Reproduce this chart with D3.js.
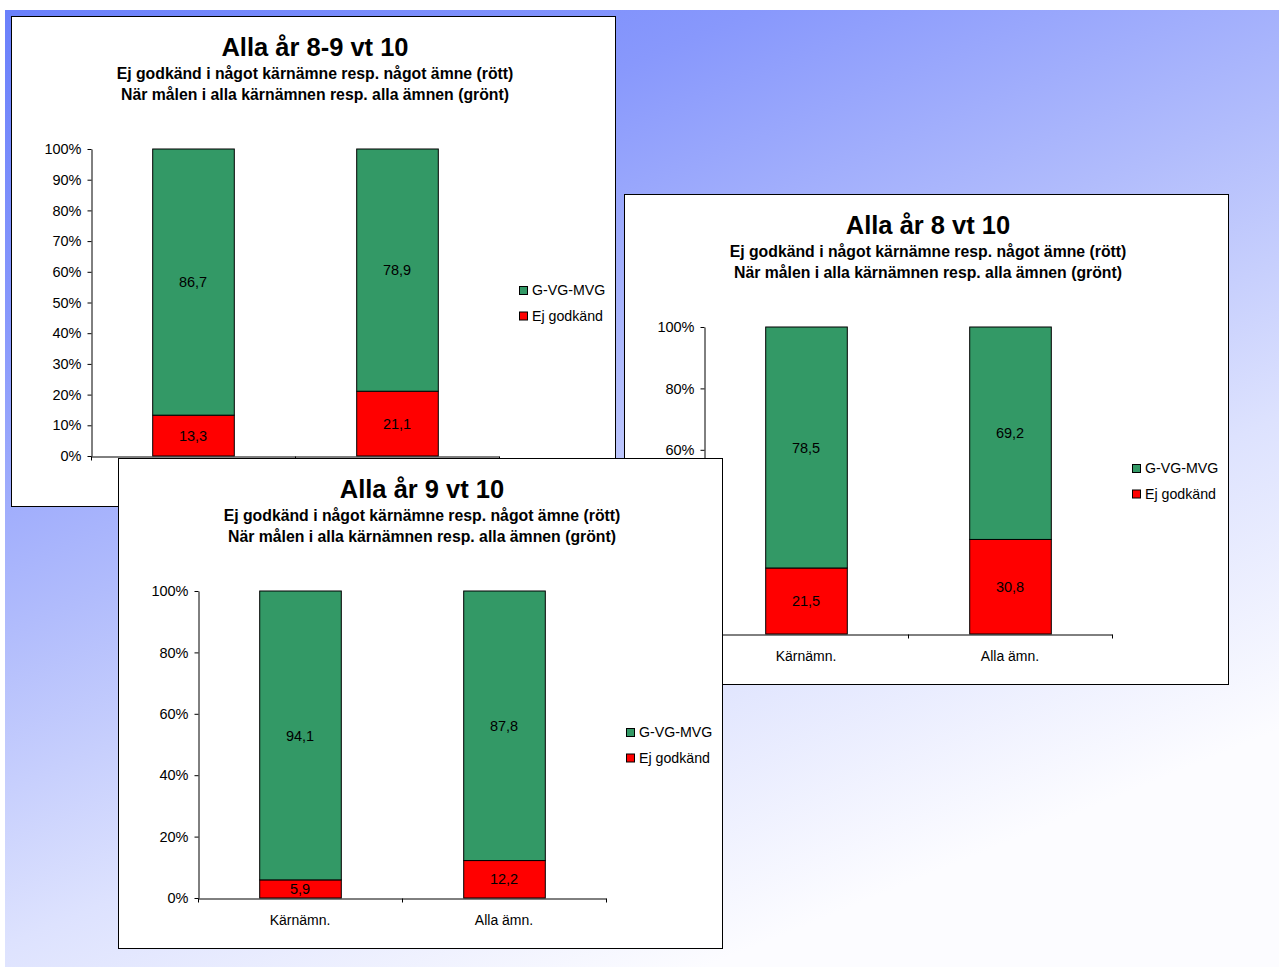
<!DOCTYPE html>
<html><head><meta charset="utf-8">
<script src="https://cdn.jsdelivr.net/npm/d3@7"></script>
<style>
body{margin:0;background:#fff;}
svg{display:block;font-family:"Liberation Sans",Arial,sans-serif;}
</style>
</head><body><svg id="c" width="1279" height="967"></svg>
<script>
// ---- data ----
const categories = ["Kärnämn.", "Alla ämn."];
const seriesNames = ["G-VG-MVG", "Ej godkänd"];
const titles = ["Alla år 8-9 vt 10", "Alla år 8 vt 10", "Alla år 9 vt 10"];
const subtitleLine1 = "Ej godkänd i något kärnämne resp. något ämne (rött)";
const subtitleLine2 = "När målen i alla kärnämnen resp. alla ämnen (grönt)";
const ejGodkand_8_9 = [13.3, 21.1];
const gvgMvg_8_9 = [86.7, 78.9];
const ejGodkand_8 = [21.5, 30.8];
const gvgMvg_8 = [78.5, 69.2];
const ejGodkand_9 = [5.9, 12.2];
const gvgMvg_9 = [94.1, 87.8];
const yTicks_8_9 = [0, 10, 20, 30, 40, 50, 60, 70, 80, 90, 100];
const yTicks_8 = [0, 20, 40, 60, 80, 100];
const yTicks_9 = [0, 20, 40, 60, 80, 100];

const colors = {"G-VG-MVG": "#339966", "Ej godkänd": "#ff0000"};
const svLocale = d3.formatLocale({decimal: ",", thousands: " ", grouping: [3], currency: ["", " kr"]});
const fmt = svLocale.format(".1f");

const svg = d3.select("#c");
const defs = svg.append("defs");
const grad = defs.append("linearGradient").attr("id", "bg")
  .attr("x1", 0).attr("y1", 0).attr("x2", 0.55).attr("y2", 1);
[[0, "#6a80fb"], [0.25, "#8898fc"], [0.5, "#b1bcfc"], [0.75, "#dde2fe"], [1, "#fcfcff"]]
  .forEach(([o, c]) => grad.append("stop").attr("offset", o).attr("stop-color", c));
svg.append("rect").attr("x", 5).attr("y", 10).attr("width", 1274).attr("height", 957).attr("fill", "url(#bg)");

const PW = 604, PH = 490;
// panel 1's category labels lie hidden beneath panel 3 in the reference
const panels = [
  {pos: [11, 16], title: titles[0], red: ejGodkand_8_9, green: gvgMvg_8_9, ticks: yTicks_8_9, catLabels: false},
  {pos: [624, 194], title: titles[1], red: ejGodkand_8, green: gvgMvg_8, ticks: yTicks_8, catLabels: true},
  {pos: [118, 458], title: titles[2], red: ejGodkand_9, green: gvgMvg_9, ticks: yTicks_9, catLabels: true}
];

panels.forEach(p => {
  const g = svg.append("g").attr("transform", `translate(${p.pos[0]},${p.pos[1]})`);
  g.append("rect").attr("x", 0.5).attr("y", 0.5).attr("width", PW).attr("height", PH)
    .attr("fill", "#fff").attr("stroke", "#000").attr("stroke-width", 1);

  g.append("text").attr("x", 304).attr("y", 40).attr("text-anchor", "middle")
    .attr("font-size", 25.5).attr("font-weight", "bold").text(p.title);
  g.append("text").attr("x", 304).attr("y", 63).attr("text-anchor", "middle")
    .attr("font-size", 15.8).attr("font-weight", "bold").text(subtitleLine1);
  g.append("text").attr("x", 304).attr("y", 84).attr("text-anchor", "middle")
    .attr("font-size", 15.8).attr("font-weight", "bold").text(subtitleLine2);

  const x = d3.scaleBand().domain(categories).range([80, 488]).paddingInner(0.6).paddingOuter(0.3);
  const y = d3.scaleLinear().domain([0, 100]).range([440, 133]);

  const rows = categories.map((c, i) => ({cat: c, "Ej godkänd": p.red[i], "G-VG-MVG": p.green[i]}));
  const stacked = d3.stack().keys(["Ej godkänd", "G-VG-MVG"])(rows);

  stacked.forEach(s => {
    const sg = g.append("g");
    sg.selectAll("rect").data(s).join("rect")
      .attr("x", d => x(d.data.cat) + 0.5)
      .attr("y", d => y(d[1]))
      .attr("width", x.bandwidth())
      .attr("height", d => y(d[0]) - y(d[1]))
      .attr("fill", colors[s.key]).attr("stroke", "#000").attr("stroke-width", 1);
    sg.selectAll("text").data(s).join("text")
      .attr("x", d => x(d.data.cat) + x.bandwidth() / 2)
      .attr("y", d => y((d[0] + d[1]) / 2))
      .attr("dy", "0.35em").attr("text-anchor", "middle")
      .attr("font-size", 14.5).attr("fill", "#000")
      .text(d => fmt(d.data[s.key]));
  });

  // y axis
  const ya = g.append("g").attr("transform", "translate(80.5,0)")
    .call(d3.axisLeft(y).tickValues(p.ticks).tickSize(4).tickSizeOuter(0).tickPadding(6).tickFormat(d => d + "%"));
  ya.attr("font-family", null).attr("font-size", 14.5);
  ya.selectAll("text").attr("fill", "#000");
  ya.selectAll("line,path").attr("stroke", "#000");

  // x axis (labels centered, ticks between categories)
  const xAxis = d3.axisBottom(x).tickSize(0).tickSizeOuter(0).tickPadding(17);
  if (!p.catLabels) xAxis.tickFormat(() => "");
  const xa = g.append("g").attr("transform", "translate(0,440.5)").call(xAxis);
  xa.attr("font-family", null).attr("font-size", 14);
  xa.selectAll("text").attr("fill", "#000");
  xa.select("path").attr("stroke", "#000");
  const bounds = d3.range(categories.length + 1).map(i => x.range()[0] + i * x.step());
  xa.selectAll("line.bound").data(bounds).join("line").attr("class", "bound")
    .attr("x1", d => Math.round(d) + 0.5).attr("x2", d => Math.round(d) + 0.5)
    .attr("y1", 0).attr("y2", 4).attr("stroke", "#000");

  // legend
  const lg = g.append("g").attr("transform", "translate(508,270)");
  seriesNames.forEach((n, i) => {
    lg.append("rect").attr("x", 0.5).attr("y", i * 25.5 + 0.5).attr("width", 8).attr("height", 8)
      .attr("fill", colors[n]).attr("stroke", "#000");
    lg.append("text").attr("x", 13).attr("y", i * 25.5 + 4.5).attr("dy", "0.35em")
      .attr("font-size", 14.2).attr("fill", "#000").text(n);
  });
});
</script>
</body></html>
